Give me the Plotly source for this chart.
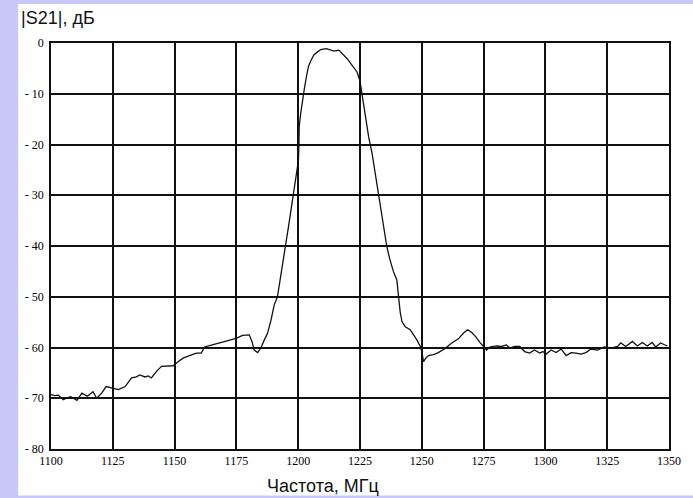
import plotly.graph_objects as go

# Measured transmission |S21| of the band-pass filter
freq_mhz = [
    1100.0, 1101.5, 1103.0, 1105.0, 1106.5, 1108.0, 1110.5, 1112.5, 1114.7, 1117.0,
    1118.5, 1120.5, 1122.3, 1124.5, 1127.2, 1130.0, 1132.6, 1134.5, 1136.0, 1138.0,
    1139.3, 1140.6, 1142.7, 1144.7, 1146.7, 1149.4, 1151.4, 1153.4, 1156.0, 1158.8,
    1160.8, 1162.1, 1164.5, 1166.8, 1170.9, 1174.9, 1177.5, 1180.2, 1181.3, 1182.2,
    1183.6, 1184.9, 1186.3, 1187.6, 1189.0, 1190.3, 1191.6, 1193.3, 1195.0, 1196.3,
    1197.7, 1199.0, 1199.7, 1200.1, 1200.3, 1200.4, 1201.0, 1201.7, 1202.4, 1203.3,
    1204.1, 1205.0, 1206.4, 1207.7, 1209.1, 1211.4, 1213.1, 1214.5, 1216.5, 1217.8,
    1219.8, 1221.8, 1223.8, 1225.0, 1225.8, 1227.2, 1228.5, 1229.9, 1231.2, 1232.6,
    1234.0, 1235.8, 1237.0, 1238.5, 1239.9, 1240.6, 1241.3, 1242.0, 1243.3, 1245.3,
    1246.7, 1248.0, 1249.4, 1250.0, 1250.7, 1251.6, 1252.7, 1254.7, 1256.7, 1259.4,
    1262.1, 1264.8, 1266.8, 1268.5, 1270.1, 1271.7, 1273.5, 1274.8, 1276.2, 1277.5,
    1280.2, 1282.2, 1284.2, 1285.6, 1287.6, 1289.6, 1291.6, 1293.6, 1295.6, 1297.7,
    1299.0, 1300.3, 1302.3, 1304.3, 1306.4, 1308.4, 1310.4, 1312.4, 1314.4, 1316.4,
    1318.4, 1321.1, 1323.8, 1326.5, 1329.2, 1330.5, 1332.5, 1335.2, 1337.2, 1339.2,
    1341.2, 1343.2, 1344.6, 1346.6, 1349.3,
]
s21_db = [
    -69.3, -69.5, -69.4, -70.3, -69.9, -69.7, -70.4, -69.0, -69.6, -68.7,
    -70.0, -69.0, -67.7, -68.0, -68.3, -67.7, -66.0, -65.8, -65.4, -65.8,
    -65.6, -66.0, -64.7, -63.7, -63.6, -63.6, -62.8, -62.1, -61.6, -61.1,
    -61.1, -59.9, -59.6, -59.3, -58.7, -58.2, -57.6, -57.5, -58.8, -60.5,
    -61.0, -60.1, -58.5, -57.2, -54.6, -51.6, -50.0, -45.0, -40.1, -35.5,
    -30.9, -26.4, -23.7, -23.1, -19.8, -16.5, -13.9, -11.3, -9.3, -6.7,
    -4.7, -3.6, -2.3, -1.8, -1.3, -1.1, -1.3, -1.6, -1.4, -2.0,
    -3.1, -4.4, -5.7, -7.5, -10.2, -14.6, -18.5, -21.8, -26.0, -30.0,
    -35.0, -40.0, -42.5, -45.0, -46.7, -50.6, -53.2, -54.9, -55.9, -56.5,
    -57.5, -58.5, -59.8, -60.8, -62.8, -62.1, -61.6, -61.4, -61.0, -60.2,
    -59.1, -58.3, -57.2, -56.5, -57.0, -57.8, -59.0, -59.7, -60.5, -59.9,
    -59.7, -59.8, -59.5, -60.1, -59.8, -59.8, -60.8, -61.1, -60.5, -61.1,
    -60.8, -61.3, -60.5, -61.0, -60.3, -61.6, -61.0, -61.1, -61.3, -61.0,
    -60.3, -60.5, -59.9, -60.1, -59.8, -59.1, -59.8, -58.8, -59.7, -59.0,
    -59.7, -59.0, -59.9, -59.1, -59.7,
]

x_ticks = [1100, 1125, 1150, 1175, 1200, 1225, 1250, 1275, 1300, 1325, 1350]
y_ticks = [0, -10, -20, -30, -40, -50, -60, -70, -80]
y_tick_text = ["0", "- 10", "- 20", "- 30", "- 40", "- 50", "- 60", "- 70", "- 80"]

W, H = 693, 498
ML, MR, MT, MB = 51, 21, 43, 49
pw, ph = W - ML - MR, H - MT - MB
FRAME = "#C8C8F8"


def px_x(p):
    return (p - ML) / pw


def px_y(p):
    return (H - MB - p) / ph


fig = go.Figure()
fig.add_trace(go.Scatter(
    x=freq_mhz, y=s21_db, mode="lines",
    line=dict(color="#111111", width=1.3),
    hoverinfo="skip", showlegend=False,
))

tick_font = dict(family="Liberation Serif, Times New Roman, serif", size=12, color="#000000")
axis_common = dict(
    showgrid=True, gridcolor="#111111", gridwidth=1.5,
    showline=True, linecolor="#111111", linewidth=1.7, mirror=True,
    zeroline=False, ticks="", tickfont=tick_font, fixedrange=True,
)

fig.update_xaxes(range=[1100, 1350], tickmode="array", tickvals=x_ticks,
                 ticktext=[str(v) for v in x_ticks], **axis_common)
fig.update_yaxes(range=[-80, 0], tickmode="array", tickvals=y_ticks,
                 ticktext=y_tick_text, ticklabelstandoff=3, **axis_common)

# lavender frame along the left, top and bottom edges of the page
frame_strips = [
    (-10, 18, -10, H + 10),      # left
    (-10, W + 10, -10, 4),       # top
    (-10, W + 10, 495.5, H + 10),  # bottom
]
shapes = [
    dict(type="rect", xref="paper", yref="paper", layer="below",
         x0=px_x(a), x1=px_x(b), y0=px_y(d), y1=px_y(c),
         fillcolor=FRAME, line=dict(width=0))
    for a, b, c, d in frame_strips
]

fig.update_layout(
    width=W, height=H,
    margin=dict(l=ML, r=MR, t=MT, b=MB, pad=0),
    paper_bgcolor="white",
    plot_bgcolor="white",
    shapes=shapes,
    annotations=[
        dict(text="|S21|, дБ", xref="paper", yref="paper",
             x=px_x(19), y=px_y(18), xanchor="left", yanchor="middle",
             showarrow=False,
             font=dict(family="Liberation Sans, Arial, sans-serif", size=18, color="#111111")),
        dict(text="Частота, МГц", xref="paper", yref="paper",
             x=px_x(324), y=px_y(486), xanchor="center", yanchor="middle",
             showarrow=False,
             font=dict(family="Liberation Sans, Arial, sans-serif", size=18, color="#111111")),
    ],
)

fig.write_html("out.html")
